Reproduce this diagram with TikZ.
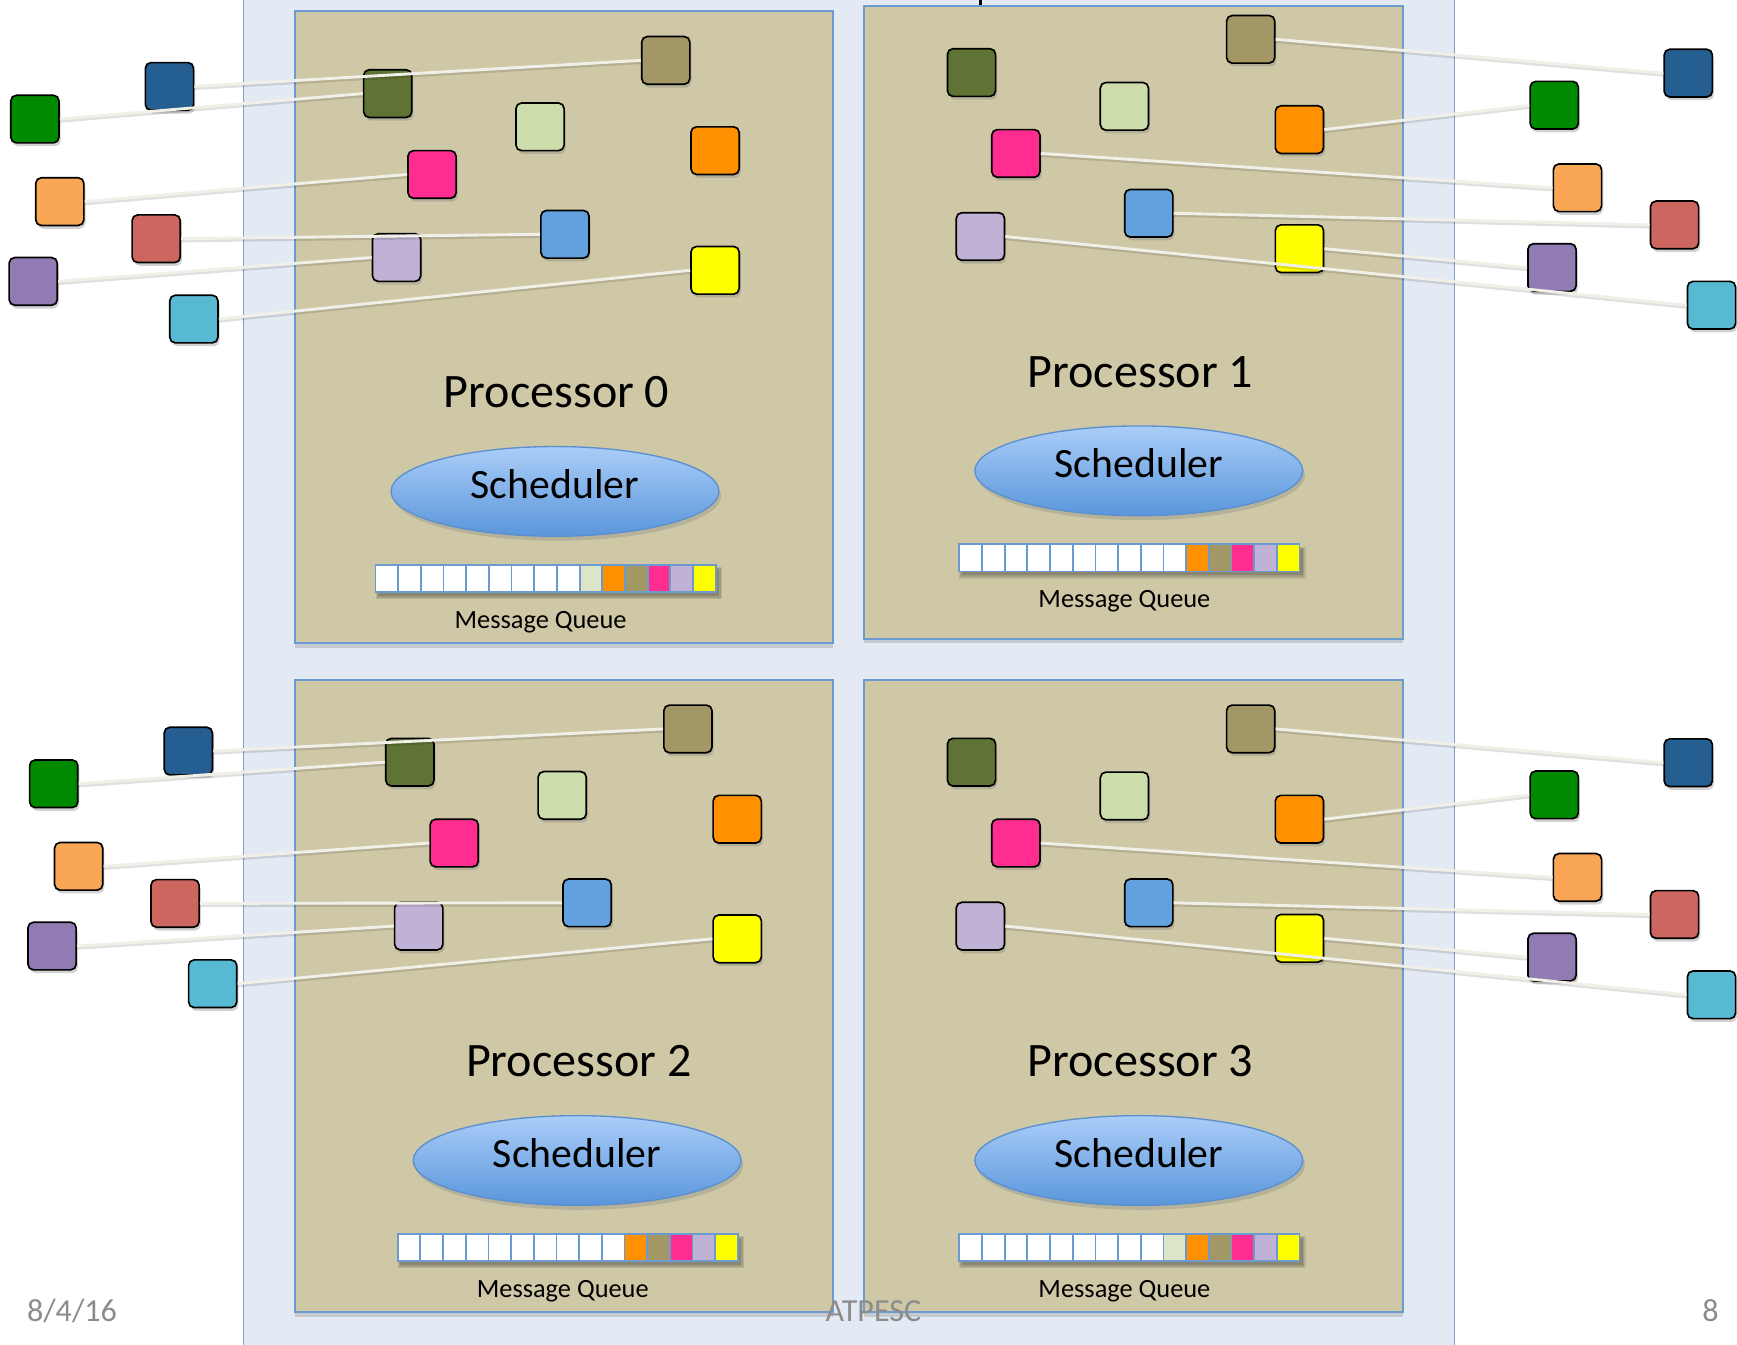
\documentclass[tikz,border=0pt]{standalone}
\usepackage{fontspec}
\setmainfont{Carlito}
\usetikzlibrary{shapes.geometric,shadows}

\definecolor{cDblue}{HTML}{255E91}
\definecolor{cGreen}{HTML}{008A00}
\definecolor{cLorange}{HTML}{FAA755}
\definecolor{cRed}{HTML}{CD665F}
\definecolor{cPurple}{HTML}{927AB2}
\definecolor{cCyan}{HTML}{58B9D2}
\definecolor{cOlive}{HTML}{5F7334}
\definecolor{cKhaki}{HTML}{A39766}
\definecolor{cLgreen}{HTML}{CCDCAA}
\definecolor{cOrange}{HTML}{FF9100}
\definecolor{cPink}{HTML}{FF2D8F}
\definecolor{cBlue}{HTML}{63A1DE}
\definecolor{cLilac}{HTML}{C0B2D4}
\definecolor{cYellow}{HTML}{FFFF00}
\definecolor{cQlg}{HTML}{DDE5C8}
\definecolor{cTan}{HTML}{CEC8A6}
\definecolor{cPanel}{HTML}{E3EAF4}
\definecolor{cPanelEdge}{HTML}{7FA2CC}
\definecolor{cBoxEdge}{HTML}{6C9BD2}
\definecolor{cQEdge}{HTML}{6A9AD0}
\definecolor{cSchTop}{HTML}{AACDF8}
\definecolor{cSchBot}{HTML}{5A96DB}
\definecolor{cSchEdge}{HTML}{5B8FD0}
\definecolor{cLine}{HTML}{F1F0E8}
\definecolor{cFoot}{HTML}{8C8C8C}

\tikzset{
  sq/.style={draw=black, line width=1.5pt, rounded corners=5pt,
    minimum width=43.5pt, minimum height=43pt, inner sep=0pt,
    drop shadow={shadow xshift=1.5pt, shadow yshift=-3pt, opacity=0.35}},
  pbox/.style={draw=cBoxEdge, line width=1.8pt, fill=cTan,
    minimum width=485.7pt, minimum height=571pt, inner sep=0pt,
    drop shadow={shadow xshift=0pt, shadow yshift=-4pt, opacity=0.3}},
  sched/.style={ellipse, draw=cSchEdge, line width=1.2pt, top color=cSchTop,
    bottom color=cSchBot, minimum width=296pt, minimum height=81pt, inner sep=0pt,
    drop shadow={shadow xshift=2pt, shadow yshift=-4pt, opacity=0.3}},
  qcell/.style={draw=cQEdge, line width=1.6pt, minimum width=20.47pt,
    minimum height=24.5pt, inner sep=0pt},
  ptitle/.style={font=\fontsize{43.4pt}{52pt}\selectfont, inner sep=0pt},
  schtext/.style={font=\fontsize{37.7pt}{45pt}\selectfont, inner sep=0pt},
  mqtext/.style={font=\fontsize{23.8pt}{28pt}\selectfont, inner sep=0pt},
  foot/.style={font=\fontsize{29pt}{34pt}\selectfont, text=cFoot, inner sep=0pt},
  link/.style={draw=cLine, line width=2.6pt},
  linksh/.style={draw=black, opacity=0.12, line width=2.6pt, transform canvas={yshift=-2pt}},
}

\newcommand\LeftIn[1]{%
  \node[sq,fill=cOlive] (#1olive) at (350,84.5) {};
  \node[sq,fill=cKhaki] (#1khaki) at (601,54.5) {};
  \node[sq,fill=cLgreen] (#1lgreen) at (487.5,114.5) {};
  \node[sq,fill=cOrange] (#1orange) at (645.5,136) {};
  \node[sq,fill=cPink] (#1pink) at (390,157.5) {};
  \node[sq,fill=cBlue] (#1blue) at (510,211.5) {};
  \node[sq,fill=cLilac] (#1lilac) at (358,232.5) {};
  \node[sq,fill=cYellow] (#1yellow) at (645.5,244) {};
}
\newcommand\LeftOut[1]{%
  \node[sq,fill=cDblue] (#1ob) at (153,78) {};
  \node[sq,fill=cGreen] (#1og) at (31.5,107.5) {};
  \node[sq,fill=cLorange] (#1oo) at (54,182) {};
  \node[sq,fill=cRed] (#1or) at (141,215.5) {};
  \node[sq,fill=cPurple] (#1op) at (30,254) {};
  \node[sq,fill=cCyan] (#1oc) at (175,288) {};
}
\newcommand\RightIn[1]{%
  \node[sq,fill=cOlive] (#1olive) at (877,65.5) {};
  \node[sq,fill=cKhaki] (#1khaki) at (1129,35.5) {};
  \node[sq,fill=cLgreen] (#1lgreen) at (1015,96) {};
  \node[sq,fill=cOrange] (#1orange) at (1173,117) {};
  \node[sq,fill=cPink] (#1pink) at (917,138.5) {};
  \node[sq,fill=cBlue] (#1blue) at (1037,192.5) {};
  \node[sq,fill=cLilac] (#1lilac) at (885,213.5) {};
  \node[sq,fill=cYellow] (#1yellow) at (1173,224.5) {};
}
\newcommand\RightOut[1]{%
  \node[sq,fill=cDblue] (#1ob) at (1524,66) {};
  \node[sq,fill=cGreen] (#1og) at (1403,95) {};
  \node[sq,fill=cLorange] (#1oo) at (1424,169.5) {};
  \node[sq,fill=cRed] (#1or) at (1511.6,203) {};
  \node[sq,fill=cPurple] (#1op) at (1401,241.5) {};
  \node[sq,fill=cCyan] (#1oc) at (1545,275.5) {};
}
\newcommand\LeftLinks[2]{%
  \draw[#2] (#1ob.east) -- (#1khaki.west);
  \draw[#2] (#1og.east) -- (#1olive.west);
  \draw[#2] (#1oo.east) -- (#1pink.west);
  \draw[#2] (#1or.east) -- (#1blue.west);
  \draw[#2] (#1op.east) -- (#1lilac.west);
  \draw[#2] (#1oc.east) -- (#1yellow.west);
}
\newcommand\RightLinks[2]{%
  \draw[#2] (#1khaki.east) -- (#1ob.west);
  \draw[#2] (#1orange.east) -- (#1og.west);
  \draw[#2] (#1pink.east) -- (#1oo.west);
  \draw[#2] (#1blue.east) -- (#1or.west);
  \draw[#2] (#1yellow.east) -- (#1op.west);
  \draw[#2] (#1lilac.east) -- (#1oc.west);
}
\newcommand\Lower[3]{%
  \node[ptitle, anchor=base] (#1title) at (502.5,368) {Processor #2};
  \node[sched] (#1sch) at (501,443.6) {};
  \node[schtext, anchor=base] (#1schtxt) at (501,449.7) {Scheduler};
  \fill[black, opacity=0.10] (339,512) rectangle (652,541);
  \fill[black, opacity=0.12] (340,513) rectangle (650.5,539.5);
  \fill[black, opacity=0.14] (341,514) rectangle (649,538);
  \foreach \c [count=\i] in {#3} {%
    \node[qcell, fill=\c] (#1q\i) at ({339+20.47*(\i-0.5)},522.25) {};
  }
  \node[mqtext, anchor=base] (#1mq) at (488,567) {Message Queue};
}

\begin{document}
\begin{tikzpicture}[x=1pt, y=-1pt]
  \useasboundingbox (0,0) rectangle (1568,1214);
  \clip (0,0) rectangle (1568,1214);
  \fill[white] (0,0) rectangle (1568,1214);
  % outer panel
  \draw[fill=cPanel, draw=cPanelEdge, line width=1.3pt] (219.6,-10) rectangle (1313,1230);
  \draw[line width=2.5pt] (885,-2) -- (885,4.5);
  % processor boxes
  \node[pbox] (box0) at (509.15,295.35) {};
  \node[pbox] (box1) at (1023.2,291) {};
  \node[pbox] (box2) at (509.15,899.15) {};
  \node[pbox] (box3) at (1023.2,899.15) {};
  % lower parts
  \begin{scope}
    \Lower{pa}{0}{white,white,white,white,white,white,white,white,white,cQlg,cOrange,cKhaki,cPink,cLilac,cYellow}
  \end{scope}
  \begin{scope}[shift={(527,-18.6)}]
    \Lower{pb}{1}{white,white,white,white,white,white,white,white,white,white,cOrange,cKhaki,cPink,cLilac,cYellow}
  \end{scope}
  \begin{scope}[shift={(20,604)}]
    \Lower{pc}{2}{white,white,white,white,white,white,white,white,white,white,cOrange,cKhaki,cPink,cLilac,cYellow}
  \end{scope}
  \begin{scope}[shift={(527,604)}]
    \Lower{pd}{3}{white,white,white,white,white,white,white,white,white,cQlg,cOrange,cKhaki,cPink,cLilac,cYellow}
  \end{scope}
  % squares
  \begin{scope}
    \LeftIn{pa}\LeftOut{pa}
  \end{scope}
  \begin{scope}[shift={(20,603.5)}]
    \LeftIn{pc}
  \end{scope}
  \begin{scope}[shift={(17,600)}]
    \LeftOut{pc}
  \end{scope}
  \begin{scope}
    \RightIn{pb}\RightOut{pb}
  \end{scope}
  \begin{scope}[shift={(0,622.5)}]
    \RightIn{pd}\RightOut{pd}
  \end{scope}
  % links
  \LeftLinks{pa}{linksh}\LeftLinks{pa}{link}
  \LeftLinks{pc}{linksh}\LeftLinks{pc}{link}
  \RightLinks{pb}{linksh}\RightLinks{pb}{link}
  \RightLinks{pd}{linksh}\RightLinks{pd}{link}
  % footer
  \node[foot, anchor=base] (date) at (65,1193) {8/4/16};
  \node[foot, anchor=base] (conf) at (788.5,1193) {ATPESC};
  \node[foot, anchor=base] (page) at (1544,1193) {8};
\end{tikzpicture}
\end{document}
